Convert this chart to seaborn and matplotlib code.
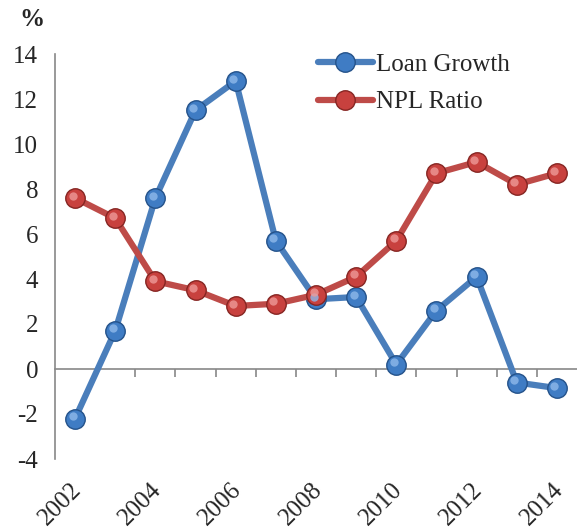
import numpy as np
import pandas as pd
import matplotlib.pyplot as plt
import matplotlib.transforms as mtransforms
import seaborn as sns

# Data
years = [2002, 2003, 2004, 2005, 2006, 2007, 2008, 2009, 2010, 2011, 2012, 2013, 2014]
loan_growth = [-2.2, 1.7, 7.6, 11.5, 12.8, 5.7, 3.1, 3.2, 0.2, 2.6, 4.1, -0.6, -0.85]
npl_ratio = [7.6, 6.7, 3.9, 3.5, 2.8, 2.9, 3.3, 4.1, 5.7, 8.7, 9.2, 8.2, 8.7]
year_labels = ["2002", "2004", "2006", "2008", "2010", "2012", "2014"]

df = pd.DataFrame({"pos": np.arange(len(years)),
                   "Loan Growth": loan_growth,
                   "NPL Ratio": npl_ratio})

sns.set_style("white")
plt.rcParams["font.family"] = ["Liberation Serif", "DejaVu Serif"]
plt.rcParams["axes.unicode_minus"] = False

fig = plt.figure(figsize=(5.77, 5.31), dpi=100)
ax = fig.add_axes([55 / 577, 1 - 459 / 531, 522 / 577, 405 / 531])

blue, blue_edge, blue_hi = "#3f7cc4", "#24528a", "#8fb9ea"
red, red_edge, red_hi = "#c8413e", "#862522", "#ee9a98"

# small offset for a highlight spot on each marker (fake 3D look)
hi_tr = mtransforms.offset_copy(ax.transData, fig=fig, x=-2.5, y=2.5, units="dots")

for col, c, ec, hc in [("Loan Growth", blue, blue_edge, blue_hi),
                       ("NPL Ratio", red, red_edge, red_hi)]:
    line_c = "#4a7ebb" if col == "Loan Growth" else "#be4b48"
    sns.lineplot(data=df, x="pos", y=col, ax=ax, color=line_c, lw=4.5,
                 marker="o", markersize=14, markerfacecolor=c,
                 markeredgecolor=ec, markeredgewidth=1.0, label=col,
                 zorder=3)
    ax.plot(df["pos"], df[col], ls="none", marker="o", markersize=6,
            markerfacecolor=hc, markeredgewidth=0, alpha=0.8,
            transform=hi_tr, zorder=4)

ax.set_xlim(-0.5, len(years) - 0.5)
ax.set_ylim(-4, 14)
ax.set_yticks(range(-4, 15, 2))
ax.set_xlabel("")
ax.set_ylabel("")

# bottom labels (rotated even years), no visible spine at bottom
ax.set_xticks(np.arange(0, len(years), 2))
ax.set_xticklabels(year_labels, rotation=45, ha="right", rotation_mode="anchor",
                   fontsize=18)
ax.tick_params(axis="x", length=0, pad=14)
shift = mtransforms.ScaledTranslation(-5 / 100, 0, fig.dpi_scale_trans)
for lab in ax.get_xticklabels():
    lab.set_transform(lab.get_transform() + shift)
ax.tick_params(axis="y", direction="out", length=6, color="#888888",
               width=1.2, labelsize=18, pad=6)
for s in ["top", "right", "bottom"]:
    ax.spines[s].set_visible(False)
ax.spines["left"].set_color("#888888")
ax.spines["left"].set_linewidth(1.2)

# category axis crossing at zero
zero_ax = ax.secondary_xaxis(4 / 18)
zero_ax.set_xticks(np.arange(0.5, len(years) - 0.5, 1))
zero_ax.set_xticklabels([])
zero_ax.tick_params(direction="out", length=6, color="#888888", width=1.2)
zero_ax.spines["bottom"].set_color("#888888")
zero_ax.spines["bottom"].set_linewidth(1.2)

fig.text(19 / 577, 1 - 19 / 531, "%", fontsize=18, fontweight="bold",
         va="center", ha="left")

leg = ax.legend(loc="upper left", bbox_to_anchor=(0.46, 1.057), frameon=False,
                fontsize=18, handlelength=2.2, handletextpad=0.12,
                labelspacing=0.6)

fig.savefig("out.png", dpi=100)
